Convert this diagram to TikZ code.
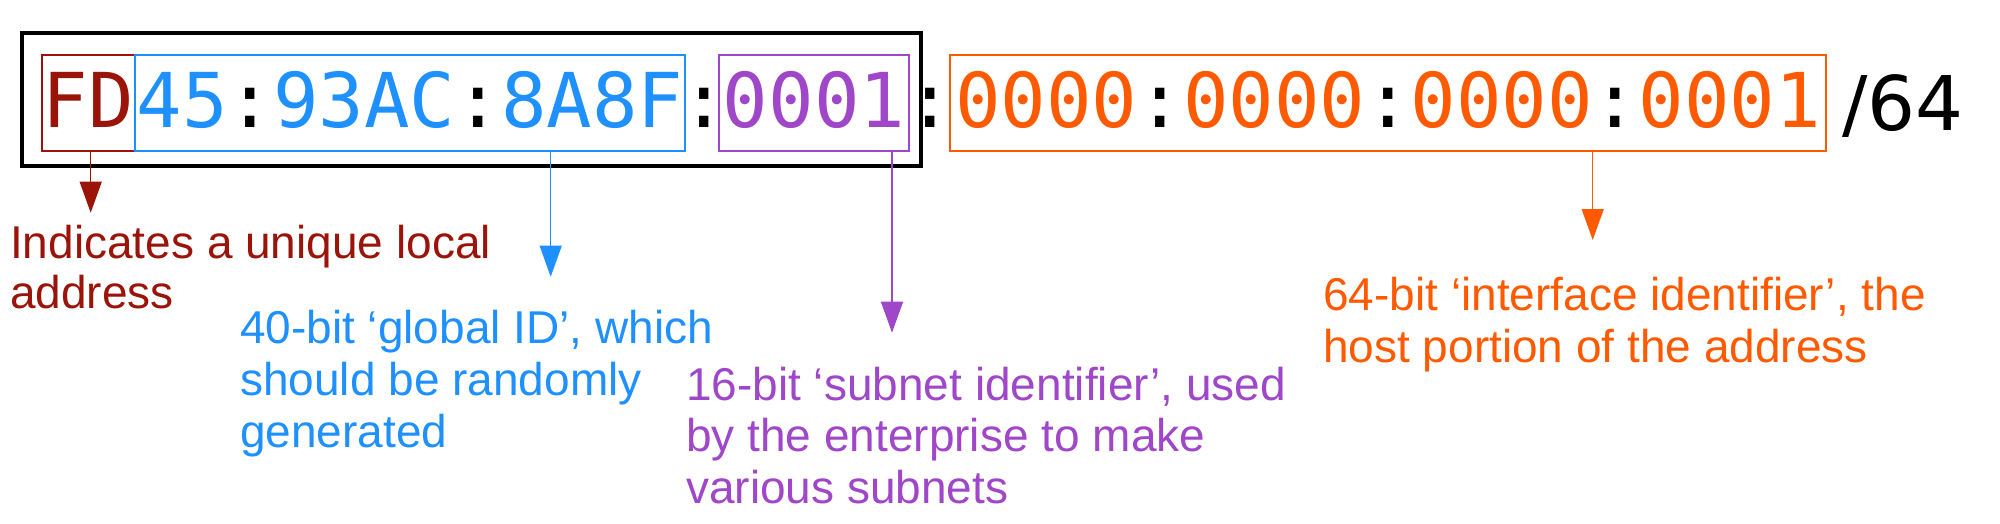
\documentclass[tikz,border=0pt]{standalone}
\usepackage{fontspec}
\usetikzlibrary{arrows.meta}
\newfontfamily\monof{DejaVu Sans Mono}
\newfontfamily\sansf{DejaVu Sans}
\newfontfamily\lblf{Liberation Sans}
\definecolor{fdred}{RGB}{155,20,10}
\definecolor{gblue}{RGB}{30,144,255}
\definecolor{spurple}{RGB}{160,70,200}
\definecolor{iorange}{RGB}{255,90,0}
\newcommand\cln{{\color{black}:}}
\tikzset{
  mono/.style={font=\monof\fontsize{75.66}{80}\selectfont, text height=55.2pt, text depth=7.2pt, inner sep=0pt},
  seg/.style={mono, draw=#1, line width=2.8pt, text=#1, minimum height=96pt},
  lbl/.style={font=\lblf\fontsize{46}{52}\selectfont, align=left, anchor=base west, inner sep=0pt, text=#1},
  conn/.style={draw=#1, line width=1.2pt, -{Triangle[length=31pt,width=22pt]}},
}
\begin{document}
\begin{tikzpicture}[x=1pt,y=-1pt]
\useasboundingbox (0,0) rectangle (2000,523);
% prefix frame
\node[draw=black, line width=3.4pt, minimum width=899pt, minimum height=133pt, inner sep=0pt] (prefix) at (471.5,99.5) {};
% segments
\node[seg=fdred, minimum width=93pt] (fd) at (88.5,103) {FD};
\node[seg=gblue, minimum width=550pt] (gid) at (410,103) {45\cln 93AC\cln 8A8F};
\node[mono] (c1) at (704,103) {:};
\node[seg=spurple, minimum width=190pt] (sub) at (814,103) {0001};
\node[mono] (c2) at (930,103) {:};
\node[seg=iorange, minimum width=876pt] (iid) at (1388,103) {0000\cln 0000\cln 0000\cln 0001};
\node[font=\sansf\fontsize{75.4}{80}\selectfont, anchor=base west, inner sep=0pt] (len) at (1842,130) {/64};
% labels (anchored at the baseline of their last line)
\node[lbl=fdred, font=\lblf\fontsize{46}{50}\selectfont] (lfd) at (10,308) {Indicates a unique local\\address};
\node[lbl=gblue] (lgid) at (240,447) {40-bit ‘global ID’, which\\should be randomly\\generated};
\node[lbl=spurple, font=\lblf\fontsize{46}{51.5}\selectfont] (lsub) at (686,503) {16-bit ‘subnet identifier’, used\\by the enterprise to make\\various subnets};
\node[lbl=iorange] (liid) at (1323,362) {64-bit ‘interface identifier’, the\\host portion of the address};
% arrow tips
\coordinate (tfd) at (90.7,212.7);
\coordinate (tgid) at (550.7,276.7);
\coordinate (tsub) at (892,332.7);
\coordinate (tiid) at (1592.7,240);
% connectors
\draw[conn=fdred] (tfd |- fd.south) -- (tfd);
\draw[conn=gblue] (tgid |- gid.south) -- (tgid);
\draw[conn=spurple] (tsub |- sub.south) -- (tsub);
\draw[conn=iorange] (tiid |- iid.south) -- (tiid);
\end{tikzpicture}
\end{document}
